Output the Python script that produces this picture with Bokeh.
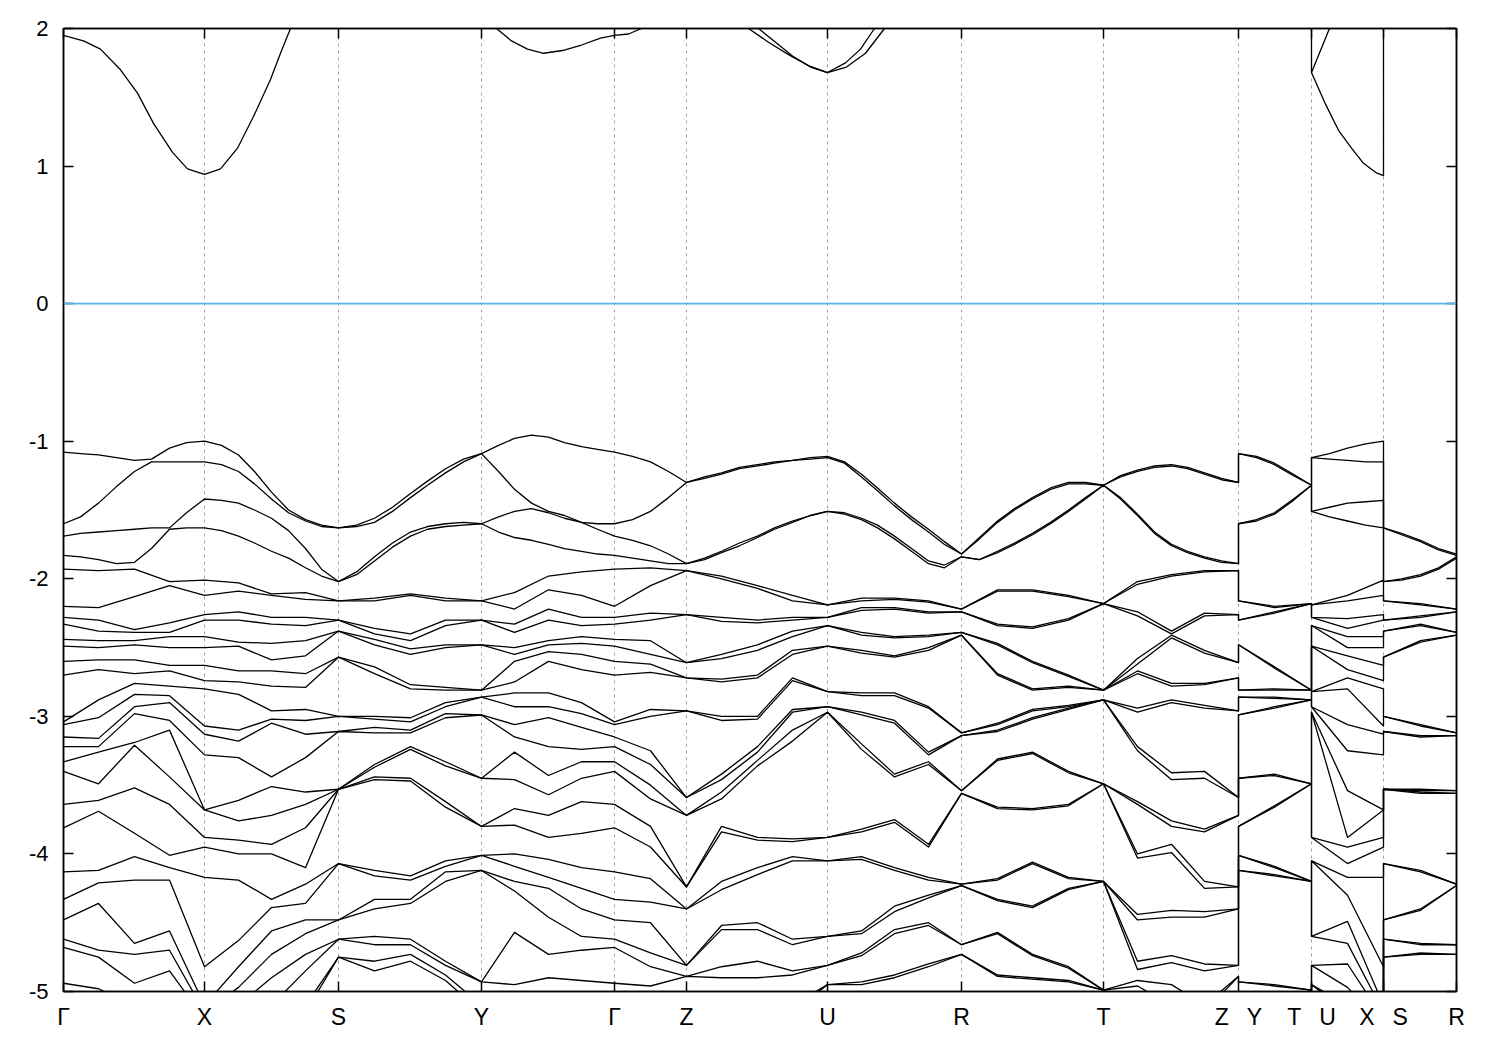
from bokeh.plotting import figure
from bokeh.models import FixedTicker, LinearAxis, Span, Range1d
from bokeh.embed import file_html
from bokeh.resources import INLINE

# ---- k-path (path length, arbitrary units) ----
k_ticks = [0, 141, 275, 418, 551, 623, 764, 898, 1040, 1175, 1248, 1320, 1393]
k_tick_labels = ["Γ", "X", "S", "Y", "Γ", "Z", "U", "R", "T",
                 "Z\u2002\u00a0Y", "T\u2002\u00a0U", "X\u2002\u00a0S", "R"]
energy_ticks = [2, 1, 0, -1, -2, -3, -4, -5]

# k values at which the (deeper) valence-band energies were read
k_samples = [0, 35, 71, 106, 141, 175, 208, 242, 275, 311, 347, 382, 418,
             451, 485, 518, 551, 587, 623, 658, 694, 729, 764, 798, 831, 865,
             898, 934, 969, 1005, 1040, 1074, 1108, 1141, 1175, 1175, 1211,
             1248, 1248, 1284, 1320, 1320, 1357, 1393]

# ---- valence-band energies (eV) read at each sampled k ----
E_Gamma = [-1.08, -1.60, -1.69, -1.83, -1.93, -2.20, -2.28, -2.33, -2.44, -2.49, -2.60, -2.70, -3.04, -3.06, -3.15, -3.22, -3.33, -3.40, -3.64, -3.81, -4.13, -4.33, -4.48, -4.62, -4.68, -4.94]
E_GX1 = [-1.11, -1.44, -1.66, -1.85, -1.94, -2.21, -2.30, -2.38, -2.45, -2.50, -2.59, -2.66, -2.88, -3.01, -3.16, -3.22, -3.26, -3.49, -3.61, -3.69, -4.12, -4.21, -4.36, -4.70, -4.75, -4.98]
E_GX2 = [-1.15, -1.17, -1.64, -1.88, -1.93, -2.13, -2.37, -2.39, -2.45, -2.48, -2.59, -2.69, -2.76, -2.84, -2.93, -2.98, -3.19, -3.21, -3.52, -3.85, -4.02, -4.19, -4.65, -4.73, -4.94]
E_GX3 = [-1.06, -1.15, -1.55, -1.64, -2.02, -2.05, -2.32, -2.39, -2.42, -2.50, -2.63, -2.67, -2.78, -2.85, -2.90, -3.03, -3.10, -3.44, -3.64, -4.01, -4.10, -4.19, -4.56, -4.70, -4.85]
E_X = [-1.00, -1.16, -1.42, -1.63, -2.01, -2.12, -2.26, -2.30, -2.42, -2.50, -2.63, -2.74, -2.80, -3.07, -3.13, -3.28, -3.68, -3.68, -3.88, -3.95, -4.17, -4.82]
E_XS1 = [-1.11, -1.25, -1.50, -1.70, -2.03, -2.09, -2.24, -2.30, -2.46, -2.49, -2.67, -2.75, -2.84, -3.10, -3.18, -3.30, -3.61, -3.76, -3.90, -4.00, -4.19, -4.63, -4.82, -4.97]
E_XS2 = [-1.40, -1.47, -1.55, -1.80, -2.11, -2.12, -2.28, -2.33, -2.47, -2.59, -2.67, -2.78, -2.96, -3.02, -3.05, -3.44, -3.51, -3.72, -3.93, -4.00, -4.33, -4.39, -4.56, -4.73, -4.90]
E_XS3 = [-1.55, -1.58, -1.75, -1.93, -2.10, -2.15, -2.28, -2.34, -2.45, -2.56, -2.69, -2.79, -2.95, -3.03, -3.13, -3.30, -3.55, -3.64, -3.81, -4.10, -4.22, -4.36, -4.48, -4.58, -4.73, -4.85]
E_S = [-1.63, -1.63, -2.02, -2.02, -2.16, -2.16, -2.30, -2.30, -2.38, -2.38, -2.57, -2.57, -3.00, -3.00, -3.11, -3.11, -3.53, -3.53, -3.53, -3.53, -4.07, -4.07, -4.48, -4.48, -4.62, -4.62, -4.75, -4.75]
E_SY1 = [-1.57, -1.60, -1.82, -1.85, -2.14, -2.16, -2.36, -2.40, -2.44, -2.48, -2.64, -2.69, -3.00, -3.02, -3.08, -3.12, -3.35, -3.37, -3.44, -3.46, -4.12, -4.16, -4.33, -4.40, -4.60, -4.66, -4.78, -4.85]
E_SY2 = [-1.38, -1.41, -1.66, -1.68, -2.11, -2.12, -2.40, -2.45, -2.51, -2.55, -2.77, -2.80, -3.01, -3.04, -3.10, -3.12, -3.22, -3.24, -3.45, -3.47, -4.16, -4.19, -4.33, -4.36, -4.62, -4.66, -4.73, -4.78]
E_SY3 = [-1.20, -1.23, -1.61, -1.62, -2.14, -2.16, -2.30, -2.34, -2.48, -2.50, -2.79, -2.81, -2.90, -2.93, -2.98, -3.01, -3.33, -3.36, -3.62, -3.66, -4.05, -4.09, -4.13, -4.20, -4.78, -4.81, -4.88, -4.92]
E_Y = [-1.09, -1.09, -1.60, -1.60, -2.16, -2.16, -2.30, -2.30, -2.48, -2.48, -2.81, -2.81, -2.86, -2.86, -2.99, -2.99, -3.45, -3.45, -3.80, -3.80, -4.01, -4.01, -4.12, -4.12, -4.93, -4.93]
E_YG1 = [-0.97, -1.36, -1.50, -1.70, -2.10, -2.22, -2.33, -2.39, -2.50, -2.55, -2.60, -2.75, -2.83, -2.93, -3.06, -3.15, -3.26, -3.46, -3.67, -3.79, -4.00, -4.09, -4.20, -4.27, -4.57, -4.95]
E_YG2 = [-0.97, -1.50, -1.55, -1.66, -1.98, -2.08, -2.22, -2.30, -2.45, -2.48, -2.53, -2.60, -2.83, -2.93, -3.01, -3.22, -3.43, -3.57, -3.72, -3.88, -4.04, -4.17, -4.25, -4.46, -4.73, -4.90]
E_YG3 = [-1.03, -1.57, -1.62, -1.76, -1.95, -2.12, -2.28, -2.34, -2.42, -2.47, -2.55, -2.66, -2.90, -2.98, -3.08, -3.24, -3.33, -3.45, -3.62, -3.85, -4.10, -4.25, -4.40, -4.60, -4.70, -4.92]
E_GZ1 = [-1.16, -1.48, -1.76, -1.86, -1.92, -2.05, -2.25, -2.30, -2.45, -2.55, -2.62, -2.68, -2.95, -3.00, -3.25, -3.35, -3.50, -3.60, -3.80, -3.95, -4.18, -4.35, -4.50, -4.72, -4.82, -4.96]
E_Z = [-1.30, -1.30, -1.89, -1.89, -1.94, -1.94, -2.26, -2.26, -2.61, -2.61, -2.72, -2.72, -2.96, -2.96, -3.59, -3.59, -3.72, -3.72, -4.24, -4.24, -4.40, -4.40, -4.81, -4.81, -4.89, -4.89]
E_ZU1 = [-1.22, -1.24, -1.78, -1.80, -1.98, -2.00, -2.28, -2.31, -2.55, -2.58, -2.73, -2.75, -3.00, -3.03, -3.42, -3.46, -3.55, -3.60, -3.80, -3.84, -4.20, -4.26, -4.52, -4.55, -4.82, -4.90]
E_ZU2 = [-1.15, -1.16, -1.62, -1.64, -2.05, -2.07, -2.30, -2.32, -2.48, -2.52, -2.70, -2.72, -3.00, -3.02, -3.22, -3.26, -3.32, -3.36, -3.88, -3.90, -4.10, -4.15, -4.50, -4.55, -4.78, -4.90]
E_ZU3 = [-1.13, -1.14, -1.55, -1.57, -2.12, -2.16, -2.28, -2.30, -2.38, -2.42, -2.52, -2.55, -2.72, -2.74, -2.95, -2.97, -3.10, -3.18, -3.89, -3.91, -4.02, -4.05, -4.62, -4.66, -4.85, -4.88]
E_U = [-1.12, -1.12, -1.51, -1.51, -2.19, -2.19, -2.28, -2.28, -2.34, -2.34, -2.49, -2.49, -2.82, -2.82, -2.93, -2.93, -2.97, -2.97, -3.88, -3.88, -4.05, -4.05, -4.60, -4.60, -4.81, -4.81, -4.95, -4.95]
E_UR1 = [-1.24, -1.25, -1.56, -1.57, -2.14, -2.16, -2.21, -2.23, -2.39, -2.41, -2.52, -2.54, -2.83, -2.85, -2.97, -2.99, -3.20, -3.24, -3.82, -3.84, -4.02, -4.04, -4.56, -4.58, -4.72, -4.74, -4.93, -4.95]
E_UR2 = [-1.45, -1.46, -1.68, -1.70, -2.14, -2.15, -2.21, -2.22, -2.42, -2.43, -2.56, -2.57, -2.83, -2.85, -3.03, -3.05, -3.42, -3.44, -3.75, -3.77, -4.10, -4.12, -4.38, -4.42, -4.55, -4.58, -4.88, -4.90]
E_UR3 = [-1.63, -1.64, -1.87, -1.88, -2.16, -2.17, -2.24, -2.25, -2.41, -2.42, -2.50, -2.52, -2.93, -2.94, -3.26, -3.28, -3.33, -3.35, -3.93, -3.95, -4.17, -4.19, -4.30, -4.32, -4.50, -4.52, -4.80, -4.82]
E_R = [-1.82, -1.82, -1.84, -1.84, -2.22, -2.22, -2.24, -2.24, -2.39, -2.39, -2.41, -2.41, -3.12, -3.12, -3.14, -3.14, -3.54, -3.54, -3.56, -3.56, -4.22, -4.22, -4.23, -4.23, -4.66, -4.66, -4.73, -4.73]
E_RT1 = [-1.55, -1.56, -1.79, -1.80, -2.08, -2.09, -2.33, -2.34, -2.47, -2.48, -2.69, -2.70, -3.05, -3.06, -3.10, -3.11, -3.31, -3.32, -3.66, -3.67, -4.18, -4.19, -4.33, -4.34, -4.57, -4.58, -4.88, -4.89]
E_RT2 = [-1.42, -1.43, -1.66, -1.67, -2.08, -2.09, -2.35, -2.36, -2.60, -2.61, -2.80, -2.81, -2.95, -2.96, -3.01, -3.02, -3.26, -3.27, -3.67, -3.68, -4.06, -4.07, -4.38, -4.39, -4.73, -4.74, -4.90, -4.91]
E_RT3 = [-1.30, -1.31, -1.49, -1.50, -2.12, -2.13, -2.29, -2.30, -2.70, -2.71, -2.78, -2.79, -2.92, -2.93, -2.94, -2.95, -3.40, -3.41, -3.64, -3.65, -4.17, -4.18, -4.25, -4.26, -4.82, -4.83, -4.92, -4.93]
E_T = [-1.32, -1.32, -1.32, -1.32, -2.18, -2.18, -2.18, -2.18, -2.81, -2.81, -2.81, -2.81, -2.88, -2.88, -2.88, -2.88, -3.49, -3.49, -3.49, -3.49, -4.20, -4.20, -4.20, -4.20, -4.99, -4.99, -4.99, -4.99]
E_TZ1 = [-1.20, -1.21, -1.54, -1.56, -2.02, -2.04, -2.24, -2.27, -2.58, -2.62, -2.67, -2.69, -2.94, -2.97, -3.22, -3.25, -3.62, -3.64, -4.00, -4.03, -4.44, -4.48, -4.78, -4.84, -4.92, -4.96]
E_TZ2 = [-1.17, -1.18, -1.77, -1.78, -1.97, -1.98, -2.38, -2.40, -2.41, -2.43, -2.76, -2.78, -2.88, -2.90, -3.41, -3.46, -3.76, -3.80, -3.93, -3.99, -4.41, -4.46, -4.74, -4.79, -4.95]
E_TZ3 = [-1.24, -1.25, -1.83, -1.84, -1.94, -1.95, -2.25, -2.27, -2.52, -2.54, -2.76, -2.77, -2.92, -2.94, -3.40, -3.45, -3.82, -3.84, -4.20, -4.25, -4.42, -4.46, -4.80, -4.85]
E_YT1 = [-1.17, -1.17, -1.52, -1.52, -2.20, -2.21, -2.24, -2.25, -2.64, -2.65, -2.80, -2.81, -2.86, -2.87, -2.93, -2.94, -3.42, -3.43, -3.65, -3.66, -4.09, -4.10, -4.15, -4.16, -4.95, -4.96]
E_UX1 = [-1.05, -1.14, -1.45, -1.58, -2.12, -2.16, -2.29, -2.36, -2.42, -2.50, -2.56, -2.66, -2.72, -2.80, -3.06, -3.25, -3.54, -3.88, -3.95, -4.07, -4.17, -4.30, -4.49, -4.65, -4.80, -4.97]
E_SR1 = [-1.72, -1.74, -1.95, -1.97, -2.18, -2.19, -2.27, -2.28, -2.33, -2.34, -2.45, -2.46, -3.06, -3.07, -3.14, -3.15, -3.53, -3.54, -3.55, -3.56, -4.12, -4.13, -4.40, -4.41, -4.65, -4.66, -4.72, -4.73]

# ---- four highest valence bands, read on a finer k grid per path segment ----
top_GX_k = [0, 17, 35, 53, 71, 88, 106, 123, 141]
top_GX = [[-1.08, -1.60, -1.69, -1.83], [-1.09, -1.55, -1.67, -1.84], [-1.10, -1.45, -1.66, -1.86],
          [-1.12, -1.33, -1.65, -1.89], [-1.14, -1.22, -1.64, -1.88], [-1.13, -1.15, -1.63, -1.78],
          [-1.05, -1.15, -1.63, -1.64], [-1.01, -1.15, -1.52, -1.63], [-1.00, -1.15, -1.42, -1.63]]
top_XS_k = [141, 158, 175, 191, 208, 225, 242, 258, 275]
top_XS = [[-1.00, -1.15, -1.42, -1.63], [-1.03, -1.17, -1.43, -1.65], [-1.10, -1.22, -1.45, -1.69],
          [-1.22, -1.31, -1.50, -1.74], [-1.37, -1.42, -1.56, -1.80], [-1.50, -1.52, -1.65, -1.85],
          [-1.57, -1.58, -1.78, -1.92], [-1.61, -1.62, -1.93, -1.98], [-1.63, -1.63, -2.02, -2.02]]
top_SY_k = [275, 293, 311, 329, 347, 364, 382, 400, 418]
top_SY = [[-1.63, -1.63, -2.02, -2.02], [-1.61, -1.62, -1.95, -1.97], [-1.56, -1.59, -1.84, -1.87],
          [-1.48, -1.51, -1.74, -1.77], [-1.38, -1.41, -1.66, -1.69], [-1.29, -1.32, -1.62, -1.64],
          [-1.20, -1.23, -1.60, -1.62], [-1.13, -1.15, -1.59, -1.61], [-1.09, -1.09, -1.60, -1.60]]
top_YG_k = [418, 435, 451, 468, 485, 501, 518, 534, 551]
top_YG = [[-1.09, -1.09, -1.60, -1.60], [-1.03, -1.22, -1.55, -1.66], [-0.98, -1.35, -1.51, -1.70],
          [-0.955, -1.45, -1.49, -1.72], [-0.97, -1.51, -1.52, -1.75], [-1.01, -1.54, -1.56, -1.78],
          [-1.04, -1.59, -1.59, -1.80], [-1.06, -1.60, -1.64, -1.82], [-1.08, -1.60, -1.69, -1.83]]
top_GZ_k = [551, 569, 587, 605, 623]
top_GZ = [[-1.08, -1.60, -1.69, -1.83], [-1.11, -1.57, -1.72, -1.85], [-1.15, -1.51, -1.76, -1.87],
          [-1.22, -1.41, -1.82, -1.89], [-1.30, -1.30, -1.89, -1.89]]
top_ZU_k = [623, 641, 658, 676, 694, 711, 729, 747, 764]
top_ZU = [[-1.30, -1.30, -1.89, -1.89], [-1.26, -1.27, -1.85, -1.86], [-1.23, -1.24, -1.80, -1.81],
          [-1.19, -1.20, -1.74, -1.76], [-1.17, -1.18, -1.69, -1.70], [-1.15, -1.16, -1.63, -1.64],
          [-1.14, -1.14, -1.58, -1.59], [-1.12, -1.13, -1.54, -1.54], [-1.11, -1.12, -1.51, -1.51]]
top_UR_k = [764, 781, 798, 814, 831, 848, 865, 881, 898]
top_UR = [[-1.11, -1.12, -1.51, -1.51], [-1.15, -1.16, -1.52, -1.53], [-1.24, -1.26, -1.56, -1.57],
          [-1.34, -1.36, -1.61, -1.63], [-1.45, -1.47, -1.69, -1.71], [-1.55, -1.57, -1.78, -1.80],
          [-1.64, -1.66, -1.87, -1.89], [-1.73, -1.75, -1.90, -1.92], [-1.82, -1.82, -1.84, -1.84]]
top_RT_k = [898, 916, 934, 951, 969, 987, 1005, 1022, 1040]
top_RT = [[-1.82, -1.82, -1.84, -1.84], [-1.70, -1.71, -1.86, -1.86], [-1.58, -1.59, -1.80, -1.81],
          [-1.49, -1.50, -1.74, -1.75], [-1.41, -1.42, -1.67, -1.68], [-1.34, -1.35, -1.59, -1.60],
          [-1.30, -1.31, -1.50, -1.51], [-1.30, -1.31, -1.41, -1.42], [-1.32, -1.32, -1.32, -1.32]]
top_TZ_k = [1040, 1057, 1074, 1091, 1108, 1124, 1141, 1158, 1175]
top_TZ = [[-1.32, -1.32, -1.32, -1.32], [-1.25, -1.26, -1.41, -1.42], [-1.21, -1.22, -1.53, -1.54],
          [-1.18, -1.19, -1.66, -1.67], [-1.17, -1.18, -1.75, -1.76], [-1.19, -1.20, -1.80, -1.81],
          [-1.23, -1.24, -1.84, -1.85], [-1.27, -1.28, -1.87, -1.88], [-1.30, -1.30, -1.89, -1.89]]
top_YT_k = [1175, 1193, 1211, 1230, 1248]
top_YT = [[-1.09, -1.09, -1.60, -1.60], [-1.11, -1.12, -1.57, -1.58], [-1.16, -1.17, -1.52, -1.53],
          [-1.24, -1.25, -1.42, -1.43], [-1.32, -1.32, -1.32, -1.32]]
top_UX_k = [1248, 1266, 1284, 1302, 1320]
top_UX = [[-1.12, -1.12, -1.51, -1.51], [-1.09, -1.13, -1.48, -1.55], [-1.05, -1.14, -1.45, -1.58],
          [-1.02, -1.15, -1.44, -1.61], [-1.00, -1.15, -1.43, -1.63]]
top_SR_k = [1320, 1338, 1357, 1375, 1393]
top_SR = [[-1.63, -1.63, -2.02, -2.02], [-1.67, -1.68, -2.00, -2.01], [-1.72, -1.73, -1.97, -1.98],
          [-1.78, -1.79, -1.92, -1.93], [-1.82, -1.83, -1.84, -1.85]]

# ---- conduction-band pieces visible below 2 eV (k, eV) ----
cb_GXS_k = [0, 20, 37, 57, 74, 90, 109, 124, 141, 157, 174, 190, 207, 217, 227, 237]
cb_GXS_E = [1.95, 1.91, 1.85, 1.70, 1.53, 1.31, 1.10, 0.98, 0.94, 0.98, 1.13, 1.36, 1.63, 1.82, 2.00, 2.20]
cb_YGZ_k = [418, 433, 448, 464, 480, 499, 518, 537, 551, 565, 578, 592]
cb_YGZ_E = [2.12, 2.00, 1.91, 1.85, 1.82, 1.84, 1.88, 1.93, 1.95, 1.96, 2.00, 2.10]
cb_Ua_k = [675, 685, 705, 725, 745, 764, 783, 802, 821, 830]
cb_Ua_E = [2.10, 2.00, 1.90, 1.81, 1.73, 1.68, 1.72, 1.82, 2.00, 2.10]
cb_Ub_k = [685, 695, 712, 729, 747, 764, 782, 797, 811, 822]
cb_Ub_E = [2.15, 2.00, 1.90, 1.80, 1.72, 1.68, 1.75, 1.85, 2.00, 2.15]
cb_UXa_k = [1248, 1248, 1262, 1275, 1288, 1300, 1313, 1320, 1320]
cb_UXa_E = [2.60, 1.68, 1.45, 1.26, 1.13, 1.02, 0.95, 0.93, 2.60]
cb_UXb_k = [1248, 1266, 1275]
cb_UXb_E = [1.68, 2.00, 2.20]

columns = [E_Gamma, E_GX1, E_GX2, E_GX3, E_X, E_XS1, E_XS2, E_XS3, E_S,
           E_SY1, E_SY2, E_SY3, E_Y, E_YG1, E_YG2, E_YG3, E_Gamma, E_GZ1, E_Z,
           E_ZU1, E_ZU2, E_ZU3, E_U, E_UR1, E_UR2, E_UR3, E_R, E_RT1, E_RT2,
           E_RT3, E_T, E_TZ1, E_TZ2, E_TZ3, E_Z, E_Y, E_YT1, E_T, E_U, E_UX1,
           E_X, E_S, E_SR1, E_R]

# deeper bands: indexed by energy order (rank 5 and below);
# bands that leave the window continue below -5
N_BANDS = 30
N_TOP = 4
filled = []
for col in columns:
    vals = sorted(col, reverse=True)
    below = [-5.1 - 0.05 * j for j in range(N_BANDS - len(vals))]
    filled.append(vals + below)
low_bands = [[filled[i][n] for i in range(len(columns))] for n in range(N_TOP, N_BANDS)]

# top bands: ranks 1-4 on the finer grid, segments joined in path order
top_segments = [(top_GX_k, top_GX), (top_XS_k, top_XS), (top_SY_k, top_SY),
                (top_YG_k, top_YG), (top_GZ_k, top_GZ), (top_ZU_k, top_ZU),
                (top_UR_k, top_UR), (top_RT_k, top_RT), (top_TZ_k, top_TZ),
                (top_YT_k, top_YT), (top_UX_k, top_UX), (top_SR_k, top_SR)]
top_k = []
top_bands = [[] for _ in range(N_TOP)]
for ks, rows in top_segments:
    for k, row in zip(ks, rows):
        top_k.append(k)
        s = sorted(row, reverse=True)
        for n in range(N_TOP):
            top_bands[n].append(s[n])

cb_xs = [cb_GXS_k, cb_YGZ_k, cb_Ua_k, cb_Ub_k, cb_UXa_k, cb_UXb_k]
cb_ys = [cb_GXS_E, cb_YGZ_E, cb_Ua_E, cb_Ub_E, cb_UXa_E, cb_UXb_E]

# ---- figure ----
p = figure(width=1492, height=1042, x_range=Range1d(0, 1393), y_range=Range1d(-5, 2),
           output_backend="svg", toolbar_location=None,
           min_border_left=63, min_border_right=36, min_border_top=28, min_border_bottom=51)
p.background_fill_color = "white"
p.border_fill_color = "white"
p.outline_line_color = "black"
p.outline_line_width = 1.5

line_kw = dict(line_color="black", line_width=1.3, line_join="round")
p.multi_line(xs=[k_samples] * len(low_bands), ys=low_bands, **line_kw)
p.multi_line(xs=[top_k] * N_TOP, ys=top_bands, **line_kw)
p.multi_line(xs=cb_xs, ys=cb_ys, **line_kw)

p.add_layout(Span(location=0, dimension="width", line_color="#56b4e9", line_width=1.6))

# grid
p.ygrid.visible = False
p.xgrid.ticker = FixedTicker(ticks=k_ticks)
p.xgrid.grid_line_color = "#a0a0a0"
p.xgrid.grid_line_dash = "3 4"
p.xgrid.grid_line_width = 1

def style_axis(ax, size="22px"):
    ax.axis_line_color = "black"
    ax.axis_line_width = 1.5
    ax.major_tick_line_color = "black"
    ax.major_tick_line_width = 1.5
    ax.major_tick_in = 10
    ax.major_tick_out = 0
    ax.minor_tick_in = 0
    ax.minor_tick_out = 0
    ax.major_label_text_font = "Liberation Sans"
    ax.major_label_text_font_size = size
    ax.major_label_text_color = "black"

p.xaxis.ticker = FixedTicker(ticks=k_ticks)
p.xaxis.major_label_overrides = {k: lab for k, lab in zip(k_ticks, k_tick_labels)}
style_axis(p.xaxis[0], "23px")
p.xaxis.major_label_standoff = 12

p.yaxis.ticker = FixedTicker(ticks=energy_ticks)
p.yaxis.major_label_overrides = {e: str(e) for e in energy_ticks}
style_axis(p.yaxis[0], "22px")
p.yaxis.major_label_standoff = 15

top_axis = LinearAxis(ticker=FixedTicker(ticks=k_ticks),
                      major_label_overrides={k: "" for k in k_ticks})
style_axis(top_axis)
top_axis.major_label_text_font_size = "1px"
top_axis.major_label_standoff = 0
p.add_layout(top_axis, "above")

right_axis = LinearAxis(ticker=FixedTicker(ticks=energy_ticks),
                        major_label_overrides={e: "" for e in energy_ticks})
style_axis(right_axis)
right_axis.major_label_text_font_size = "1px"
right_axis.major_label_standoff = 0
p.add_layout(right_axis, "right")

open("out.html", "w").write(file_html(p, INLINE, title="band structure"))
